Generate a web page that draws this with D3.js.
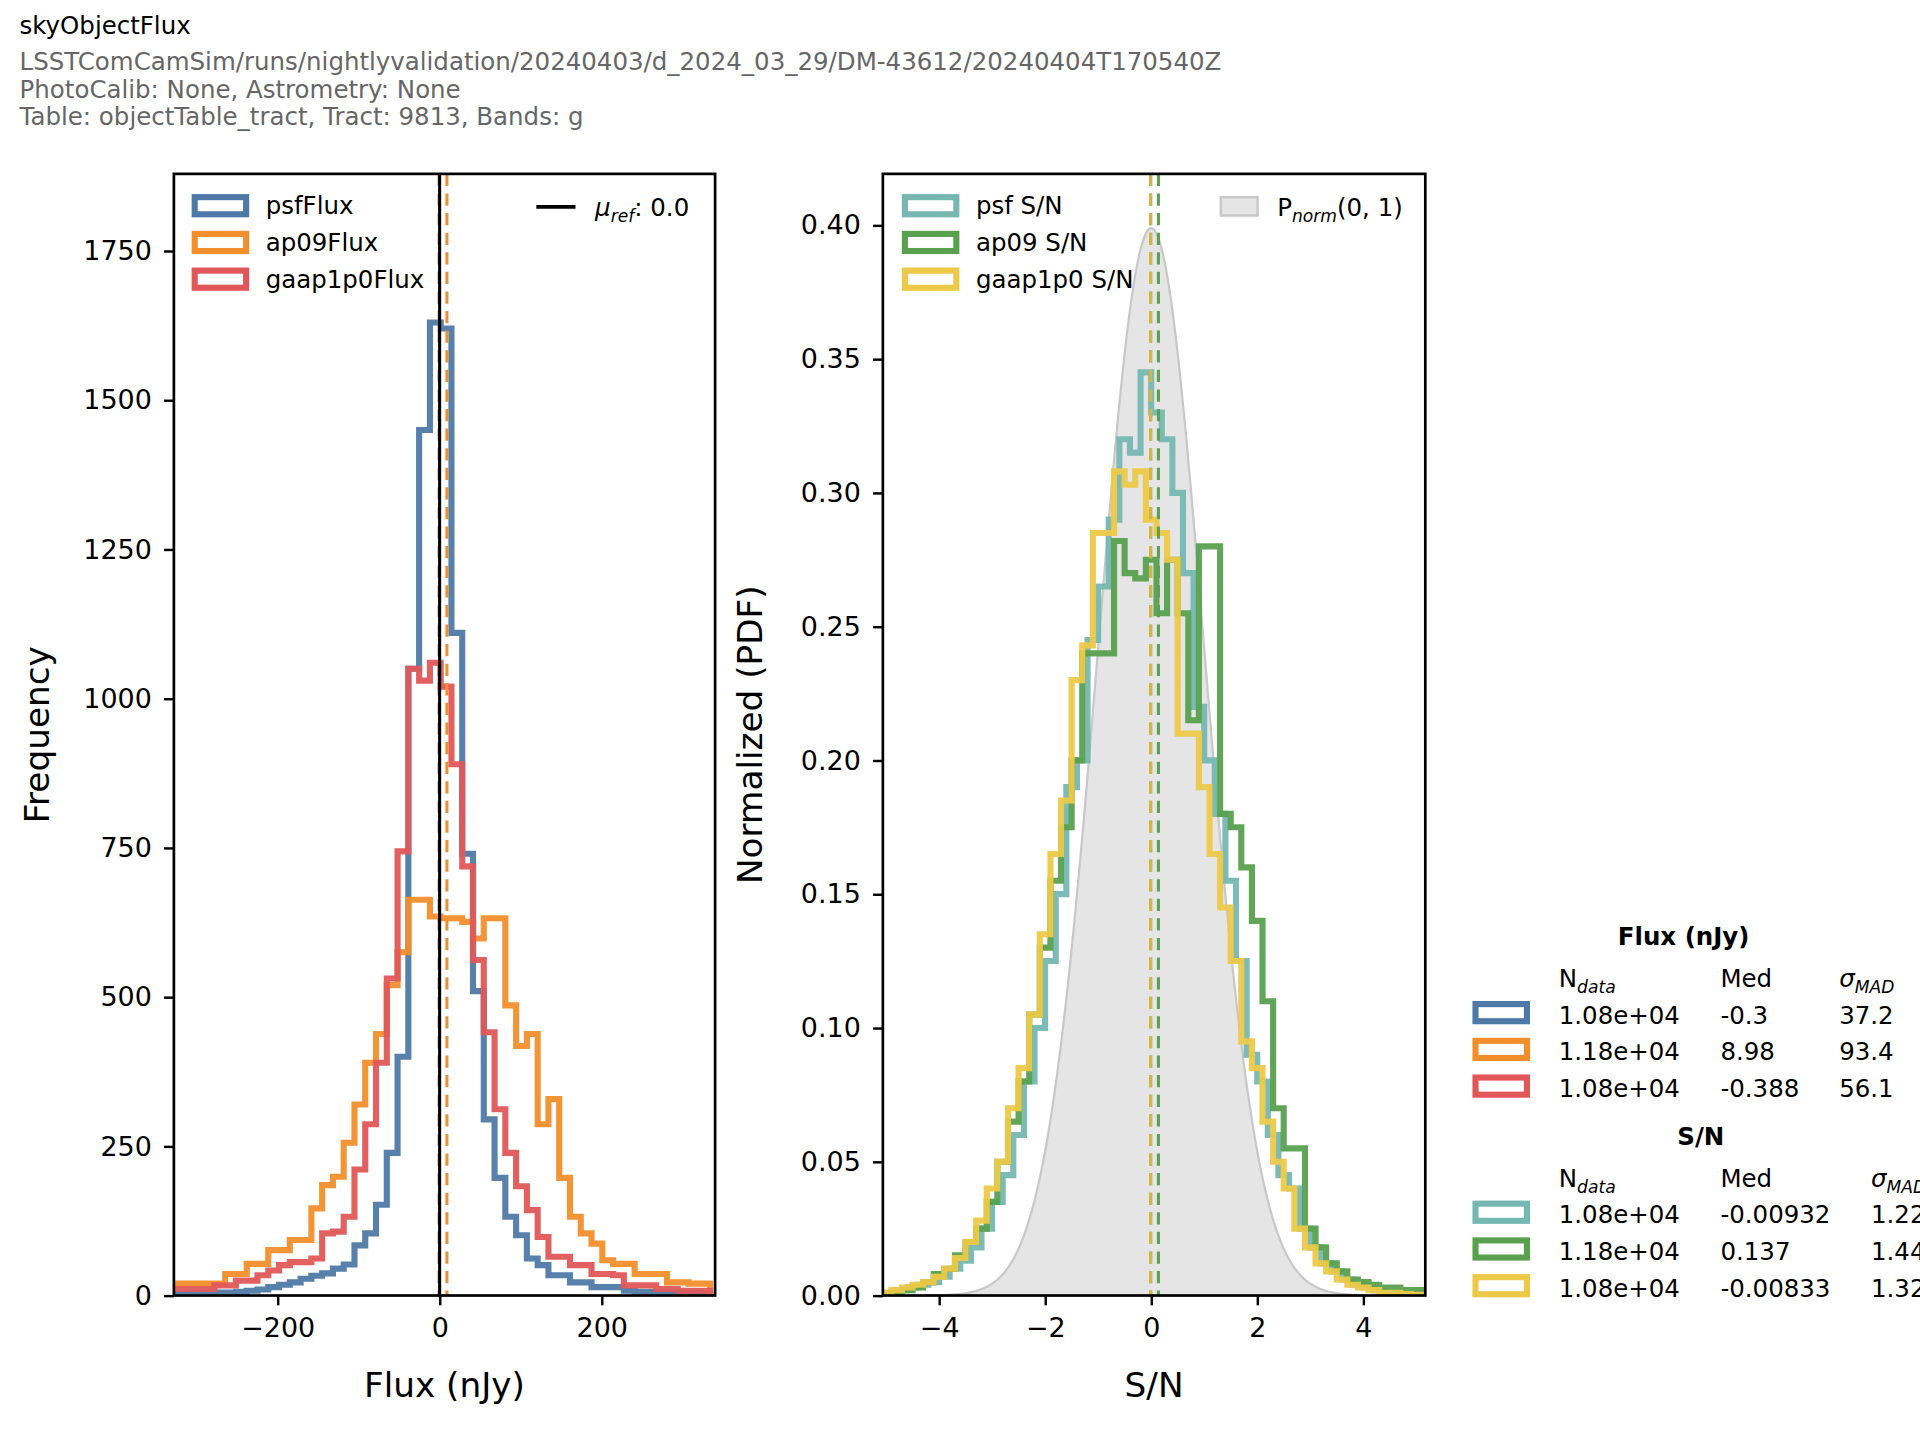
<!DOCTYPE html>
<html><head><meta charset="utf-8">
<script src="https://cdn.jsdelivr.net/npm/d3@7"></script>
<style>body{margin:0;background:#fff}svg{display:block;font-family:"DejaVu Sans",sans-serif}</style>
</head><body><svg id="c" width="1920" height="1440" viewBox="0 0 1568 1176"></svg>
<script>
// ---- data ----
const fluxBinStart = -331.2, fluxBinWidth = 13.3;
const psfFlux = [3,3,4,4,5,5,6,8,10,14,18,22,28,33,37,45,52,84,104,152,239,400,1050,1450,1630,1620,1110,740,510,295,197,132,101,62,51,34,34,22,22,14,14,14,8,6,6,5,5,4,4,3];
const ap09Flux = [20,20,20,20,20,36,36,53,53,76,76,93,93,146,185,199,256,320,390,438,520,575,663,663,635,632,632,626,598,632,632,486,418,438,287,329,197,132,104,87,59,53,53,36,36,36,22,22,20,20];
const gaapFlux = [11,11,11,11,17,17,25,25,34,42,51,56,56,62,104,107,132,211,287,390,531,744,1050,1030,1060,1020,890,719,562,441,312,239,183,143,98,65,65,51,51,36,36,34,17,17,17,11,11,8,8,8];
const snBinWidth = 0.2;
const psfSNStart = -5.0, ap09SNStart = -4.9, gaapSNStart = -5.1;
const psfSN = [0.001,0.002,0.003,0.004,0.005,0.007,0.010,0.013,0.018,0.025,0.035,0.045,0.060,0.080,0.100,0.125,0.150,0.190,0.200,0.245,0.265,0.290,0.320,0.315,0.345,0.330,0.320,0.300,0.270,0.220,0.200,0.180,0.155,0.125,0.090,0.080,0.060,0.045,0.040,0.025,0.018,0.012,0.009,0.006,0.004,0.003,0.002,0.001,0.001,0.001,0.001];
const ap09SN = [0.001,0.002,0.003,0.005,0.008,0.010,0.015,0.020,0.025,0.035,0.050,0.065,0.080,0.105,0.130,0.155,0.175,0.200,0.240,0.240,0.240,0.282,0.270,0.268,0.275,0.255,0.275,0.255,0.215,0.280,0.280,0.180,0.175,0.160,0.140,0.110,0.070,0.055,0.055,0.025,0.018,0.012,0.009,0.006,0.005,0.004,0.003,0.003,0.002,0.002,0.002];
const gaapSN = [0.001,0.002,0.003,0.004,0.005,0.007,0.010,0.014,0.020,0.028,0.040,0.050,0.070,0.085,0.105,0.135,0.165,0.185,0.230,0.243,0.285,0.285,0.308,0.303,0.308,0.290,0.285,0.275,0.210,0.210,0.190,0.165,0.145,0.125,0.095,0.085,0.065,0.050,0.040,0.025,0.018,0.012,0.009,0.006,0.004,0.003,0.002,0.001,0.001,0.0005,0.0003];
const fluxTicks = [-200,0,200], fluxYTicks = [0,250,500,750,1000,1250,1500,1750];
const snTicks = [-4,-2,0,2,4], snYTicks = [0,0.05,0.10,0.15,0.20,0.25,0.30,0.35,0.40];
const fluxMed = {psf:-0.3, ap09:8.98, gaap:-0.388};
const snMed = {psf:-0.00932, ap09:0.137, gaap:-0.00833};
const tableFlux = [["1.08e+04","-0.3","37.2"],["1.18e+04","8.98","93.4"],["1.08e+04","-0.388","56.1"]];
const tableSN = [["1.08e+04","-0.00932","1.22"],["1.18e+04","0.137","1.44"],["1.08e+04","-0.00833","1.32"]];
const C = {psf:"#4e79a7", ap09:"#f28e2b", gaap:"#e15759", tpsf:"#76b7b2", tap:"#59a14f", tgaap:"#edc948"};

const svg = d3.select("#c");
svg.append("text").attr("x",16).attr("y",28).attr("font-size",20).text("skyObjectFlux");
[["LSSTComCamSim/runs/nightlyvalidation/20240403/d_2024_03_29/DM-43612/20240404T170540Z",57],
 ["PhotoCalib: None, Astrometry: None",80],["Table: objectTable_tract, Tract: 9813, Bands: g",102]]
 .forEach(([t,y])=>svg.append("text").attr("x",16).attr("y",y).attr("font-size",20).attr("fill","#666").text(t));

function stepPath(counts,start,w,x,y){
  const pts=[[x(start),y(0)]];
  counts.forEach((c,i)=>{pts.push([x(start+i*w),y(c)]);pts.push([x(start+(i+1)*w),y(c)]);});
  pts.push([x(start+counts.length*w),y(0)]);
  return d3.line()(pts);
}
function panel(id,L,R,T,B,xd,yd,xt,yt,fmt,xlabel,ylabel,ylx){
  const x=d3.scaleLinear().domain(xd).range([L,R]);
  const y=d3.scaleLinear().domain(yd).range([B,T]);
  const g=svg.append("g");
  g.append("clipPath").attr("id",id).append("rect").attr("x",L).attr("y",T).attr("width",R-L).attr("height",B-T);
  const ax=g.append("g").attr("transform",`translate(0,${B})`).call(d3.axisBottom(x).tickValues(xt).tickSize(8).tickPadding(10).tickFormat(d=>String(d).replace("-","\u2212")));
  const ay=g.append("g").attr("transform",`translate(${L},0)`).call(d3.axisLeft(y).tickValues(yt).tickSize(8).tickPadding(10).tickFormat(fmt));
  [ax,ay].forEach(a=>{a.selectAll("text").attr("font-size",22).attr("font-family","DejaVu Sans").attr("fill","#000");a.selectAll("line").attr("stroke-width",2);a.select(".domain").remove();});
  g.append("text").attr("x",(L+R)/2).attr("y",B+83).attr("text-anchor","middle").attr("font-size",28).text(xlabel);
  g.append("text").attr("transform",`translate(${ylx},${(T+B)/2}) rotate(-90)`).attr("text-anchor","middle").attr("font-size",28).text(ylabel);
  const plot=g.append("g").attr("clip-path",`url(#${id})`);
  const frame=()=>g.append("rect").attr("x",L).attr("y",T).attr("width",R-L).attr("height",B-T).attr("fill","none").attr("stroke","#000").attr("stroke-width",2.2);
  return {x,y,plot,g,frame};
}
const P1=panel("c1",142,584,142,1058,[-328,340],[0,1879],fluxTicks,fluxYTicks,d3.format("d"),"Flux (nJy)","Frequency",40);
[[psfFlux,C.psf],[ap09Flux,C.ap09],[gaapFlux,C.gaap]].forEach(([d,c])=>
  P1.plot.append("path").attr("d",stepPath(d,fluxBinStart,fluxBinWidth,P1.x,P1.y)).attr("fill","none").attr("stroke",c).attr("stroke-width",5).attr("opacity",0.95));
P1.plot.append("line").attr("x1",P1.x(fluxMed.psf)).attr("x2",P1.x(fluxMed.psf)).attr("y1",142).attr("y2",1058).attr("stroke",C.psf).attr("stroke-width",2.5).attr("stroke-dasharray","10,6");
P1.plot.append("line").attr("x1",P1.x(fluxMed.gaap)).attr("x2",P1.x(fluxMed.gaap)).attr("y1",142).attr("y2",1058).attr("stroke",C.gaap).attr("stroke-width",2.5).attr("stroke-dasharray","10,6");
P1.plot.append("line").attr("x1",P1.x(0)).attr("x2",P1.x(0)).attr("y1",142).attr("y2",1058).attr("stroke","#000").attr("stroke-width",2.5);
P1.plot.append("line").attr("x1",P1.x(fluxMed.ap09)).attr("x2",P1.x(fluxMed.ap09)).attr("y1",142).attr("y2",1058).attr("stroke",C.ap09).attr("stroke-width",2.5).attr("stroke-dasharray","10,6");
P1.frame();
const P2=panel("c2",721,1164,142,1058,[-5.06,5.17],[0,0.4192],snTicks,snYTicks,d3.format(".2f"),"S/N","Normalized (PDF)",622);
const gx=d3.range(-5.06,5.18,0.02);
P2.plot.append("path").attr("d",d3.area().x(d=>P2.x(d)).y0(P2.y(0)).y1(d=>P2.y(Math.exp(-d*d/2)/Math.sqrt(2*Math.PI)))(gx))
  .attr("fill","#e5e5e5").attr("stroke","#c8c8c8").attr("stroke-width",1.8);
[[psfSN,psfSNStart,C.tpsf],[ap09SN,ap09SNStart,C.tap],[gaapSN,gaapSNStart,C.tgaap]].forEach(([d,s,c])=>
  P2.plot.append("path").attr("d",stepPath(d,s,snBinWidth,P2.x,P2.y)).attr("fill","none").attr("stroke",c).attr("stroke-width",5).attr("opacity",0.95));
[[snMed.psf,C.tpsf],[snMed.gaap,"#d9b43c"],[snMed.ap09,C.tap]].forEach(([m,c])=>
  P2.plot.append("line").attr("x1",P2.x(m)).attr("x2",P2.x(m)).attr("y1",142).attr("y2",1058).attr("stroke",c).attr("stroke-width",2.5).attr("stroke-dasharray","10,6"));
P2.frame();
function patch(x,y,c,fill){svg.append("rect").attr("x",x).attr("y",y).attr("width",42).attr("height",14).attr("fill",fill||"#fff").attr("stroke",c).attr("stroke-width",5);}
[["psfFlux",C.psf],["ap09Flux",C.ap09],["gaap1p0Flux",C.gaap]].forEach(([t,c],i)=>{
  patch(159,161+i*30,c);svg.append("text").attr("x",217).attr("y",175+i*30).attr("font-size",20).text(t);});
svg.append("line").attr("x1",438).attr("x2",470).attr("y1",169).attr("y2",169).attr("stroke","#000").attr("stroke-width",3);
const mt=svg.append("text").attr("x",486).attr("y",176).attr("font-size",20);
mt.append("tspan").attr("font-style","italic").text("μ");mt.append("tspan").attr("font-style","italic").attr("font-size",14).attr("dy",5).text("ref");mt.append("tspan").attr("dy",-5).text(": 0.0");
[["psf S/N",C.tpsf],["ap09 S/N",C.tap],["gaap1p0 S/N",C.tgaap]].forEach(([t,c],i)=>{
  patch(739,161+i*30,c);svg.append("text").attr("x",797).attr("y",175+i*30).attr("font-size",20).text(t);});
svg.append("rect").attr("x",997).attr("y",161).attr("width",30).attr("height",15).attr("fill","#e5e5e5").attr("stroke","#c8c8c8").attr("stroke-width",2);
const pn=svg.append("text").attr("x",1043).attr("y",176).attr("font-size",20);
pn.append("tspan").text("P");pn.append("tspan").attr("font-style","italic").attr("font-size",14).attr("dy",5).text("norm");pn.append("tspan").attr("dy",-5).text("(0, 1)");
function table(title,tx,ty,rows,cols,medX,sigX){
  svg.append("text").attr("x",tx).attr("y",ty).attr("text-anchor","middle").attr("font-size",20).attr("font-weight","bold").text(title);
  const hy=ty+34;
  const h1=svg.append("text").attr("x",1273).attr("y",hy).attr("font-size",20);h1.append("tspan").text("N");h1.append("tspan").attr("font-style","italic").attr("font-size",14).attr("dy",5).text("data");
  svg.append("text").attr("x",medX).attr("y",hy).attr("font-size",20).text("Med");
  const h3=svg.append("text").attr("x",sigX).attr("y",hy).attr("font-size",20);h3.append("tspan").attr("font-style","italic").text("σ");h3.append("tspan").attr("font-style","italic").attr("font-size",14).attr("dy",5).text("MAD");
  rows.forEach((r,i)=>{const y=hy+30*(i+1);
    patch(1205,y-16,cols[i]);
    svg.append("text").attr("x",1273).attr("y",y).attr("font-size",20).text(r[0]);
    svg.append("text").attr("x",medX).attr("y",y).attr("font-size",20).text(r[1]);
    svg.append("text").attr("x",sigX).attr("y",y).attr("font-size",20).text(r[2]);});
}
table("Flux (nJy)",1375,772,tableFlux,[C.psf,C.ap09,C.gaap],1405,1502);
table("S/N",1389,935,tableSN,[C.tpsf,C.tap,C.tgaap],1405,1528);
</script></body></html>
